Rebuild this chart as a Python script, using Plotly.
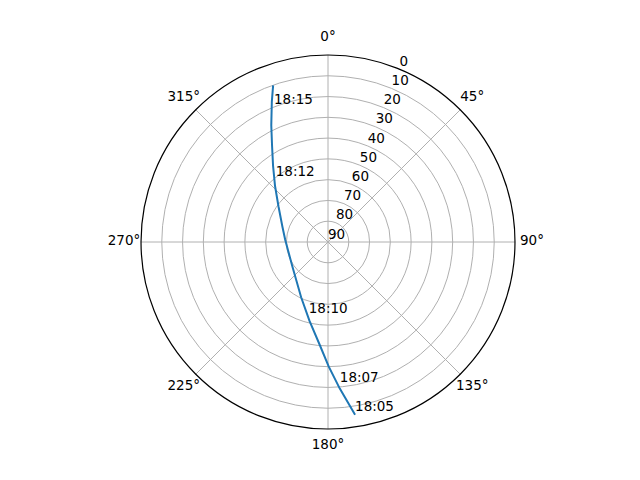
import plotly.graph_objects as go

# satellite pass track (azimuth deg, elevation deg)
azimuth = [171.1, 175.4, 179.7, 184.7, 193.2, 205.9, 234.8, 272.7, 288.8,
           305.8, 316.6, 324.2, 329.9, 334.1, 338.2, 340.7]
elevation = [5.8, 19.2, 30.1, 40.5, 51.0, 60.4, 69.1, 69.4, 66.8,
             60.6, 52.9, 44.8, 36.3, 27.5, 17.2, 10.1]

# time labels along the track
label_times = ['18:05', '18:07', '18:10', '18:12', '18:15']
label_az = [171.1, 175.3, 194.4, 320.2, 338.1]
label_el = [5.8, 20.6, 52.8, 50.7, 20.3]

angle_ticks = [0, 45, 90, 135, 180, 225, 270, 315]
radial_ticks = [0, 10, 20, 30, 40, 50, 60, 70, 80, 90]
rlabel_angle = 22.5

fig = go.Figure()

fig.add_trace(go.Scatterpolar(theta=azimuth, r=elevation, mode='lines',
                              line=dict(color='#1f77b4', width=2),
                              showlegend=False, hoverinfo='skip'))

fig.add_trace(go.Scatterpolar(theta=label_az, r=label_el, mode='text',
                              text=label_times, textposition='top right',
                              textfont=dict(size=13.5, color='black'),
                              showlegend=False, hoverinfo='skip'))

# radial tick labels, matplotlib style (left/bottom anchored at 22.5 deg)
fig.add_trace(go.Scatterpolar(theta=[rlabel_angle] * len(radial_ticks),
                              r=radial_ticks, mode='text',
                              text=[str(v) for v in radial_ticks],
                              textposition='top right',
                              textfont=dict(size=13.5, color='black'),
                              showlegend=False, hoverinfo='skip'))

# angular tick labels centred on a slightly larger, invisible polar
fig.add_trace(go.Scatterpolar(theta=angle_ticks, r=[1] * len(angle_ticks),
                              mode='text', subplot='polar2',
                              text=[f'{a}°' for a in angle_ticks],
                              textposition='middle center',
                              textfont=dict(size=13.5, color='black'),
                              cliponaxis=False,
                              showlegend=False, hoverinfo='skip'))

# page body adds an 8px offset, margins compensate for it
fig.update_layout(
    width=640, height=480,
    margin=dict(l=112, r=112, t=26, b=38),
    paper_bgcolor='white',
    font=dict(family='DejaVu Sans', size=13.5, color='black'),
    polar=dict(
        domain=dict(x=[0.0505, 0.9495], y=[0.0505, 0.9495]),
        bgcolor='white',
        angularaxis=dict(rotation=90, direction='clockwise',
                         tickmode='array', tickvals=angle_ticks,
                         showticklabels=False, ticks='',
                         showline=True, linecolor='black',
                         linewidth=1.2, gridcolor='#b0b0b0', gridwidth=1),
        radialaxis=dict(range=[90, 0], tickmode='array',
                        tickvals=radial_ticks, showticklabels=False,
                        ticks='', showline=False,
                        gridcolor='#b0b0b0', gridwidth=1),
    ),
    polar2=dict(
        domain=dict(x=[0.0096, 0.9904], y=[0.0096, 0.9904]),
        bgcolor='rgba(0,0,0,0)',
        angularaxis=dict(rotation=90, direction='clockwise', visible=False),
        radialaxis=dict(range=[0, 1], visible=False),
    ),
)

fig.write_html("out.html")
